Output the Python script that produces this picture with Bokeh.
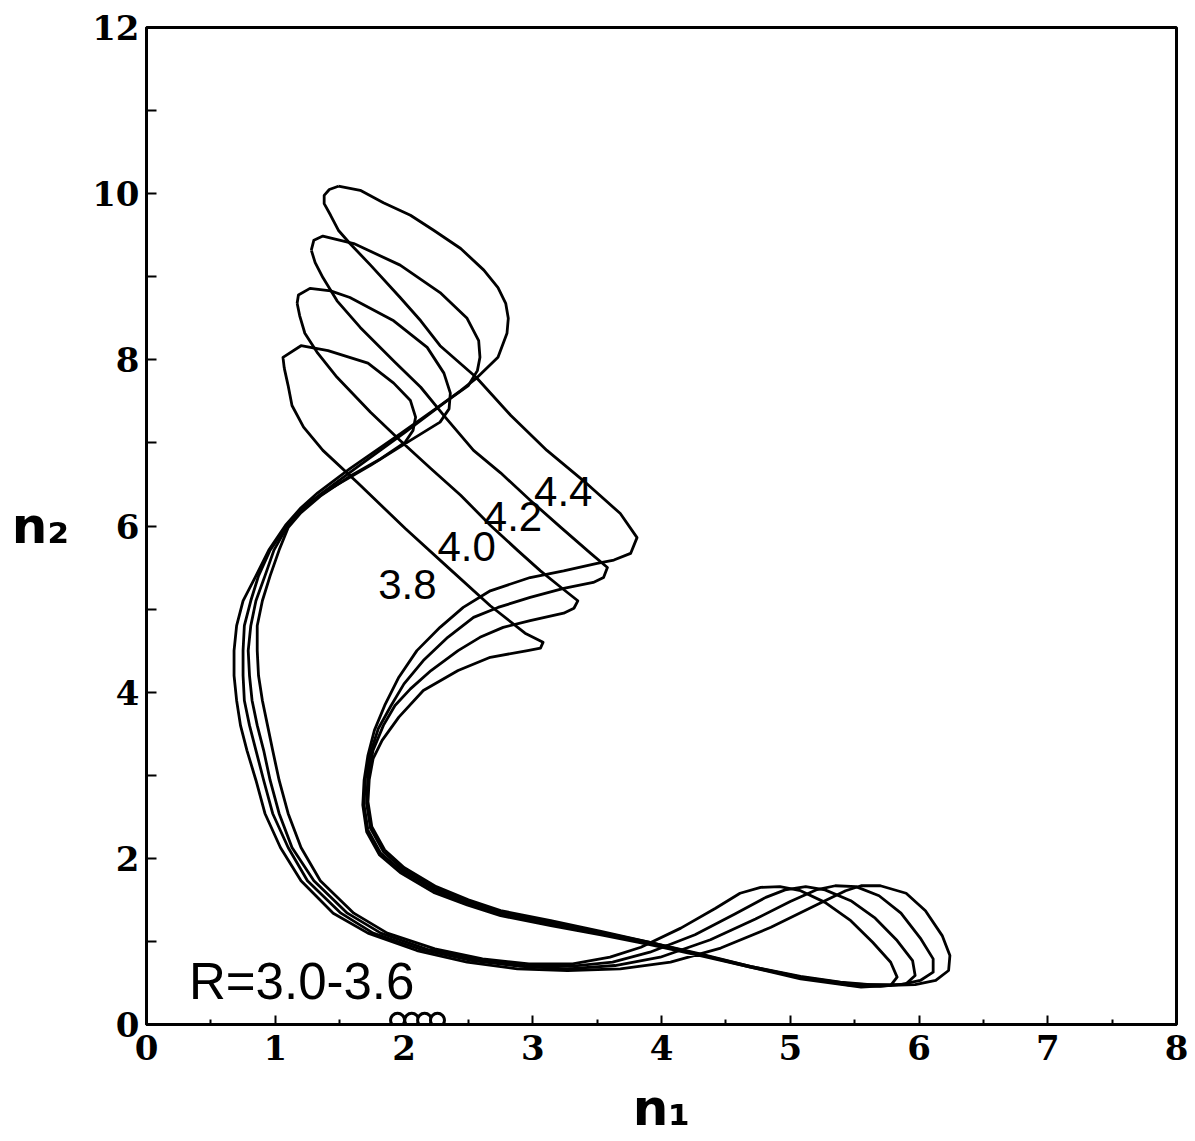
from bokeh.plotting import figure
from bokeh.models import FixedTicker, Label
from bokeh.embed import file_html
from bokeh.resources import INLINE

# ---- data (n1, n2) ----
R44_n1 = [1.49,1.66,1.84,2.05,2.23,2.44,2.62,2.73,2.79,2.81,2.80,2.73,2.57,2.44,2.28,1.97,1.58,1.33,1.20,1.08,
          0.95,0.85,0.75,0.70,0.68,0.68,0.70,0.73,0.78,0.85,0.92,1.04,1.20,1.45,1.72,2.10,2.49,2.88,3.27,3.68,4.07,
          4.46,4.85,5.23,5.43,5.55,5.70,5.90,6.05,6.18,6.24,6.23,6.13,5.97,5.78,5.47,
          5.08,4.69,4.30,3.91,3.53,3.14,2.75,2.49,2.23,1.97,1.81,1.71,1.68,1.69,1.72,1.77,1.85,1.96,2.10,2.28,2.46,2.67,2.98,3.24,3.50,3.63,3.76,3.81,
          3.68,3.39,3.11,2.83,2.56,2.28,2.13,1.97,1.74,1.58,1.49,1.43,1.38,1.38,1.42,1.49]
R44_n2 = [10.09,10.04,9.89,9.74,9.56,9.34,9.08,8.87,8.68,8.50,8.32,8.03,7.79,7.63,7.45,7.11,6.69,6.40,6.22,6.01,
          5.71,5.40,5.10,4.80,4.50,4.20,3.90,3.60,3.30,2.94,2.54,2.13,1.73,1.34,1.10,0.89,0.75,0.67,0.65,0.67,0.75,
          0.92,1.17,1.46,1.61,1.67,1.67,1.58,1.37,1.07,0.83,0.65,0.53,0.48,0.47,0.49,
          0.57,0.69,0.83,0.96,1.08,1.19,1.31,1.44,1.59,1.83,2.04,2.32,2.64,2.94,3.24,3.54,3.84,4.18,4.50,4.78,5.02,5.22,5.38,5.46,5.55,5.59,5.67,5.86,
          6.15,6.55,6.91,7.33,7.79,8.17,8.47,8.75,9.14,9.40,9.56,9.74,9.88,9.98,10.05,10.09]

R42_n1 = [1.28,1.30,1.37,1.61,1.97,2.28,2.49,2.58,2.59,2.57,2.50,2.32,2.01,1.62,1.35,1.20,1.08,
          0.96,0.87,0.81,0.76,0.75,0.75,0.76,0.80,0.85,0.91,0.98,1.10,1.25,1.51,1.76,2.14,2.53,2.90,3.27,3.64,3.99,
          4.38,4.73,5.00,5.20,5.35,5.51,5.69,5.86,6.01,6.11,6.11,6.01,5.86,5.62,5.39,
          5.08,4.69,4.30,3.91,3.53,3.14,2.75,2.49,2.23,1.98,1.82,1.72,1.69,1.70,1.74,1.80,1.90,2.00,2.15,2.34,2.54,2.73,2.98,3.24,3.47,3.55,3.58,
          3.45,3.22,2.98,2.75,2.54,2.32,2.13,1.93,1.66,1.48,1.37,1.31,1.28]
R42_n2 = [9.32,9.44,9.49,9.40,9.14,8.81,8.50,8.23,8.03,7.87,7.69,7.49,7.13,6.69,6.38,6.19,5.98,
          5.71,5.40,5.10,4.80,4.50,4.20,3.90,3.60,3.30,2.94,2.54,2.13,1.73,1.34,1.10,0.90,0.77,0.70,0.67,0.71,0.81,
          1.02,1.27,1.48,1.62,1.67,1.66,1.55,1.34,1.04,0.79,0.63,0.53,0.48,0.48,0.51,
          0.58,0.70,0.84,0.97,1.10,1.21,1.33,1.46,1.62,1.85,2.06,2.34,2.64,2.96,3.27,3.56,3.84,4.10,4.38,4.66,4.90,5.02,5.14,5.25,5.32,5.38,5.50,
          5.67,5.98,6.31,6.64,6.91,7.31,7.67,7.97,8.39,8.71,8.99,9.17,9.32]

R40_n1 = [1.17,1.18,1.27,1.43,1.58,1.92,2.18,2.31,2.36,2.35,2.28,2.05,1.74,1.43,1.23,1.10,
          0.99,0.92,0.85,0.81,0.79,0.80,0.82,0.86,0.91,0.96,1.03,1.13,1.30,1.56,1.82,2.19,2.57,2.94,3.29,3.62,3.91,
          4.26,4.57,4.81,4.96,5.12,5.27,5.47,5.66,5.83,5.95,5.97,5.90,5.70,5.47,
          5.08,4.69,4.30,3.91,3.53,3.14,2.75,2.49,2.24,1.99,1.84,1.74,1.71,1.72,1.76,1.84,1.93,2.05,2.21,2.42,2.59,2.77,2.98,3.24,3.32,3.35,
          3.22,3.06,2.88,2.67,2.44,2.21,1.97,1.74,1.48,1.33,1.23,1.19,1.17]
R40_n2 = [8.68,8.78,8.86,8.83,8.75,8.47,8.15,7.84,7.60,7.41,7.25,7.03,6.73,6.45,6.25,6.01,
          5.71,5.40,5.10,4.80,4.50,4.20,3.90,3.60,3.30,2.94,2.54,2.13,1.73,1.34,1.10,0.90,0.78,0.71,0.70,0.75,0.87,
          1.08,1.33,1.53,1.62,1.66,1.62,1.49,1.28,1.01,0.77,0.59,0.49,0.46,0.47,
          0.57,0.70,0.85,0.99,1.11,1.23,1.35,1.48,1.64,1.87,2.08,2.36,2.66,3.00,3.30,3.60,3.84,4.04,4.26,4.50,4.66,4.78,4.86,4.95,5.01,5.10,
          5.26,5.46,5.71,6.01,6.37,6.69,7.03,7.37,7.79,8.08,8.32,8.53,8.68]

R38_n1 = [1.07,1.06,1.20,1.41,1.72,1.92,2.05,2.09,2.07,2.01,1.82,1.58,1.35,1.20,1.10,
          1.03,0.96,0.90,0.86,0.86,0.87,0.90,0.94,0.98,1.03,1.10,1.20,1.35,1.61,1.87,2.24,2.61,2.97,3.31,3.60,3.84,
          4.15,4.42,4.61,4.77,4.92,5.08,5.27,5.47,5.64,5.78,5.83,5.78,5.55,
          5.08,4.69,4.30,3.91,3.53,3.14,2.75,2.50,2.25,2.00,1.85,1.75,1.72,1.73,1.76,1.83,1.96,2.15,2.42,2.67,2.96,3.06,3.08,
          2.94,2.67,2.35,2.01,1.64,1.37,1.22,1.13,1.10,1.07]
R38_n2 = [7.90,8.03,8.17,8.11,7.96,7.72,7.51,7.31,7.15,7.01,6.81,6.60,6.36,6.16,5.98,
          5.71,5.40,5.10,4.80,4.50,4.20,3.90,3.60,3.30,2.94,2.54,2.13,1.73,1.34,1.10,0.91,0.79,0.73,0.73,0.81,0.93,
          1.16,1.40,1.58,1.65,1.66,1.61,1.47,1.25,0.99,0.75,0.57,0.47,0.45,
          0.55,0.69,0.84,0.99,1.12,1.25,1.37,1.50,1.66,1.89,2.10,2.38,2.68,2.95,3.20,3.42,3.70,4.02,4.26,4.42,4.50,4.53,4.60,
          4.71,5.04,5.49,5.97,6.52,6.91,7.19,7.45,7.69,7.90]

# fixed points for R = 3.0-3.6 (sitting on the n1 axis)
fixed_n1 = [1.95, 2.06, 2.16, 2.26]
fixed_n2 = [0.05, 0.05, 0.05, 0.05]

curve_labels = ["3.8", "4.0", "4.2", "4.4"]
curve_label_n1 = [1.80, 2.26, 2.62, 3.01]
curve_label_n2 = [5.30, 5.75, 6.12, 6.42]

x_ticks = [0, 1, 2, 3, 4, 5, 6, 7, 8]
x_minor = [0.5, 1.5, 2.5, 3.5, 4.5, 5.5, 6.5, 7.5]
y_ticks = [0, 2, 4, 6, 8, 10, 12]
y_minor = [1, 3, 5, 7, 9, 11]

# ---- figure ----
p = figure(frame_width=1030, frame_height=997, x_range=(0, 8), y_range=(0, 12),
           output_backend="svg", toolbar_location=None,
           min_border_left=146, min_border_right=19, min_border_top=27, min_border_bottom=117)
p.grid.visible = False
p.background_fill_color = "white"
p.border_fill_color = "white"
p.outline_line_color = "black"
p.outline_line_width = 3
p.outline_line_alpha = 1.0

for ax in (p.xaxis, p.yaxis):
    ax.axis_line_width = 3
    ax.axis_line_color = "black"
    ax.major_tick_out = 0
    ax.minor_tick_out = 0
    ax.major_tick_line_width = 2
    ax.minor_tick_line_width = 2
    ax.major_label_text_font = "DejaVu Serif"
    ax.major_label_text_font_style = "bold"
    ax.major_label_text_font_size = "34px"
    ax.major_label_text_color = "black"
    ax.axis_label_text_font = "DejaVu Sans"
    ax.axis_label_text_font_style = "bold"
    ax.axis_label_text_font_size = "50px"
    ax.axis_label_text_color = "black"

p.xaxis.ticker = FixedTicker(ticks=x_ticks, minor_ticks=x_minor)
p.yaxis.ticker = FixedTicker(ticks=y_ticks, minor_ticks=y_minor)
p.xaxis.major_tick_in = 9
p.xaxis.minor_tick_in = 5
p.yaxis.major_tick_in = 10
p.yaxis.minor_tick_in = 10
p.xaxis.major_label_standoff = 10
p.yaxis.major_label_standoff = 7

p.xaxis.axis_label = "n\u2081"
p.xaxis.axis_label_standoff = 16
p.yaxis.axis_label = "n\u2082"
p.yaxis.axis_label_orientation = "horizontal"
p.yaxis.axis_label_standoff = 20

curves = [(R38_n1, R38_n2), (R40_n1, R40_n2), (R42_n1, R42_n2), (R44_n1, R44_n2)]
for xs, ys in curves:
    p.line(xs, ys, line_color="black", line_width=2.8, line_join="round")

p.scatter(fixed_n1, fixed_n2, marker="circle", size=14, fill_color="white",
          line_color="black", line_width=3)

for t, lx, ly in zip(curve_labels, curve_label_n1, curve_label_n2):
    p.add_layout(Label(x=lx, y=ly, text=t, text_font="Liberation Sans",
                       text_font_size="42px", text_color="black",
                       text_baseline="alphabetic"))

p.add_layout(Label(x=0.33, y=0.52, text="R=3.0-3.6", text_font="Liberation Sans",
                   text_font_size="51px", text_color="black", text_baseline="alphabetic"))

open("out.html", "w").write(file_html(p, INLINE))
